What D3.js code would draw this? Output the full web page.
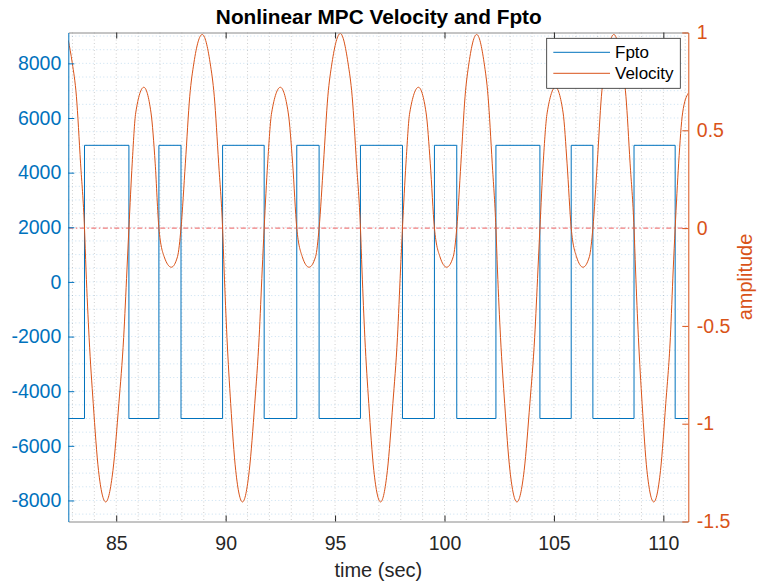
<!DOCTYPE html>
<html>
<head>
<meta charset="utf-8">
<script src="https://cdn.jsdelivr.net/npm/d3@7"></script>
<style>
  body { margin: 0; background: #fff; }
  svg { display: block; font-family: "Liberation Sans", Arial, sans-serif; }
</style>
</head>
<body>
<script>
// Fpto switching times (sec) and levels
let fptoT = [82.81, 83.55, 85.58, 86.95, 87.96, 89.86, 91.76, 93.25, 94.27, 96.16,
             98.08, 99.54, 100.56, 102.35, 104.36, 105.79, 106.78, 108.66, 110.54, 111.14];
let fptoV = [-5000, 5000, -5000, 5000, -5000, 5000, -5000, 5000, -5000, 5000,
             -5000, 5000, -5000, 5000, -5000, 5000, -5000, 5000, -5000, -5000];

// velocity samples
let velT = [82.81, 82.99, 83.18, 83.37, 83.55,
  83.62, 83.76, 83.95, 84.19, 84.52, 84.85, 85.12, 85.34, 85.49, 85.58,
  85.73, 85.89, 86.26, 86.59, 86.78, 86.95, 87.19, 87.52, 87.80, 87.96,
  88.16, 88.36, 88.55, 88.93, 89.29, 89.48, 89.68, 89.86,
  89.93, 90.06, 90.23, 90.46, 90.77, 91.08, 91.33, 91.53, 91.67, 91.76,
  91.92, 92.10, 92.50, 92.86, 93.06, 93.25, 93.50, 93.81, 94.11, 94.27,
  94.47, 94.67, 94.86, 95.24, 95.59, 95.78, 95.98, 96.16,
  96.23, 96.36, 96.54, 96.77, 97.08, 97.39, 97.64, 97.85, 97.99, 98.08,
  98.24, 98.41, 98.81, 99.16, 99.35, 99.54, 99.79, 100.10, 100.40, 100.56,
  100.75, 100.94, 101.12, 101.47, 101.81, 101.99, 102.18, 102.35,
  102.42, 102.56, 102.75, 102.99, 103.31, 103.64, 103.90, 104.12, 104.27, 104.36,
  104.51, 104.69, 105.07, 105.42, 105.60, 105.79, 106.03, 106.33, 106.62, 106.78,
  106.98, 107.17, 107.37, 107.74, 108.09, 108.29, 108.48, 108.66,
  108.73, 108.86, 109.03, 109.25, 109.56, 109.87, 110.11, 110.32, 110.45, 110.54,
  110.70, 110.88, 111.14];
let velV = [0.96, 0.845, 0.674, 0.332, 0,
  -0.214, -0.559, -0.897, -1.239, -1.40, -1.239, -0.897, -0.559, -0.214, 0,
  0.332, 0.589, 0.72, 0.589, 0.332, 0, -0.146, -0.20, -0.146, 0,
  0.332, 0.674, 0.845, 0.99, 0.845, 0.674, 0.332, 0,
  -0.214, -0.559, -0.897, -1.239, -1.40, -1.239, -0.897, -0.559, -0.214, 0,
  0.332, 0.589, 0.72, 0.589, 0.332, 0, -0.146, -0.20, -0.146, 0,
  0.332, 0.674, 0.845, 0.995, 0.845, 0.674, 0.332, 0,
  -0.214, -0.559, -0.897, -1.239, -1.40, -1.239, -0.897, -0.559, -0.214, 0,
  0.332, 0.589, 0.72, 0.589, 0.332, 0, -0.146, -0.20, -0.146, 0,
  0.332, 0.674, 0.845, 0.99, 0.845, 0.674, 0.332, 0,
  -0.214, -0.559, -0.897, -1.239, -1.40, -1.239, -0.897, -0.559, -0.214, 0,
  0.332, 0.589, 0.72, 0.589, 0.332, 0, -0.146, -0.20, -0.146, 0,
  0.332, 0.674, 0.845, 0.99, 0.845, 0.674, 0.332, 0,
  -0.214, -0.559, -0.897, -1.239, -1.40, -1.239, -0.897, -0.559, -0.214, 0,
  0.332, 0.589, 0.69];

// ticks
let xTicks = [85, 90, 95, 100, 105, 110];
let yLeftTicks = [-8000, -6000, -4000, -2000, 0, 2000, 4000, 6000, 8000];
let yRightTicks = [-1.5, -1, -0.5, 0, 0.5, 1];
let seriesNames = ["Fpto", "Velocity"];

let blue = "#0072BD", orange = "#D95319", dark = "#262626";

let W = 757, H = 584;
let pLeft = 68.3, pRight = 688.3, pTop = 32.5, pBottom = 521.5;

let x = d3.scaleLinear().domain([82.81, 111.14]).range([pLeft, pRight]);
let yL = d3.scaleLinear().domain([-8770, 9130]).range([pBottom, pTop]);
let yR = d3.scaleLinear().domain([-1.5, 1]).range([pBottom, pTop]);

let svg = d3.select("body").append("svg")
    .attr("width", W)
    .attr("height", H);

svg.append("rect").attr("width", W).attr("height", H).attr("fill", "#fff");

svg.append("defs").append("clipPath").attr("id", "clip")
  .append("rect")
    .attr("x", pLeft).attr("y", pTop)
    .attr("width", pRight - pLeft).attr("height", pBottom - pTop);

// grid (dotted, minor + major)
let grid = svg.append("g");
grid.selectAll(".vg").data(d3.range(83, 112, 1)).enter()
  .append("line")
    .attr("x1", d => x(d)).attr("x2", d => x(d))
    .attr("y1", pTop).attr("y2", pBottom)
    .attr("stroke", "rgba(38,38,38,0.22)")
    .attr("stroke-dasharray", "1,2.5");
grid.selectAll(".hg").data(d3.range(-8500, 9001, 500)).enter()
  .append("line")
    .attr("x1", pLeft).attr("x2", pRight)
    .attr("y1", d => yL(d)).attr("y2", d => yL(d))
    .attr("stroke", "rgba(0,114,189,0.22)")
    .attr("stroke-dasharray", "1,2.5");

let plot = svg.append("g").attr("clip-path", "url(#clip)");

// Fpto square wave
let fpto = fptoT.map((t, i) => [t, fptoV[i]]);
plot.append("path")
    .datum(fpto)
    .attr("fill", "none")
    .attr("stroke", blue)
    .attr("stroke-width", 1)
    .attr("d", d3.line().curve(d3.curveStepAfter)
        .x(d => x(d[0])).y(d => yL(d[1])));

// zero amplitude reference
plot.append("line")
    .attr("x1", pLeft).attr("x2", pRight)
    .attr("y1", yR(0)).attr("y2", yR(0))
    .attr("stroke", "#f07c7c")
    .attr("stroke-width", 1.2)
    .attr("stroke-dasharray", "5,2.5,1.5,2.5");

// velocity
let vel = velT.map((t, i) => [t, velV[i]]);
plot.append("path")
    .datum(vel)
    .attr("fill", "none")
    .attr("stroke", orange)
    .attr("stroke-width", 1)
    .attr("d", d3.line().curve(d3.curveMonotoneX)
        .x(d => x(d[0])).y(d => yR(d[1])));

// axes
function styleAxis(g, col, fs) {
  g.attr("font-family", null).attr("font-size", null);
  g.selectAll("text").style("font-size", fs + "px").attr("fill", col);
  g.selectAll("line").attr("stroke", col);
}

let gx = svg.append("g")
    .attr("transform", "translate(0," + pBottom + ")")
    .call(d3.axisBottom(x).tickValues(xTicks).tickSizeInner(-6).tickSizeOuter(0).tickPadding(14.5));
styleAxis(gx, dark, 19.5);
gx.select(".domain").attr("stroke", "#8a8a8a");

let gt = svg.append("g")
    .attr("transform", "translate(0," + pTop + ")")
    .call(d3.axisTop(x).tickValues(xTicks).tickSizeInner(-6).tickSizeOuter(0).tickFormat(""));
styleAxis(gt, dark, 19.5);
gt.select(".domain").attr("stroke", "#8a8a8a");

let gl = svg.append("g")
    .attr("transform", "translate(" + pLeft + ",0)")
    .call(d3.axisLeft(yL).tickValues(yLeftTicks).tickSizeInner(-6).tickSizeOuter(0).tickPadding(7)
        .tickFormat(d => String(d)));
styleAxis(gl, blue, 19.5);
gl.select(".domain").attr("stroke", blue);

let gr = svg.append("g")
    .attr("transform", "translate(" + pRight + ",0)")
    .call(d3.axisRight(yR).tickValues(yRightTicks).tickSizeInner(-6).tickSizeOuter(0).tickPadding(8.5)
        .tickFormat(d => String(d)));
styleAxis(gr, orange, 19.5);
gr.select(".domain").attr("stroke", orange);

// title and labels
svg.append("text")
    .attr("x", 378.8)
    .attr("y", 24)
    .attr("text-anchor", "middle")
    .style("font-size", "20.8px")
    .style("font-weight", "bold")
    .attr("fill", "#000")
    .text("Nonlinear MPC Velocity and Fpto");

svg.append("text")
    .attr("x", (pLeft + pRight) / 2)
    .attr("y", 577)
    .attr("text-anchor", "middle")
    .style("font-size", "20px")
    .attr("fill", dark)
    .text("time (sec)");

svg.append("text")
    .attr("transform", "translate(752," + ((pTop + pBottom) / 2) + ") rotate(-90)")
    .attr("text-anchor", "middle")
    .style("font-size", "20px")
    .attr("fill", orange)
    .text("amplitude");

// legend
let leg = svg.append("g");
leg.append("rect")
    .attr("x", 546.7).attr("y", 38.3)
    .attr("width", 133.6).attr("height", 50)
    .attr("fill", "#fff")
    .attr("stroke", dark)
    .attr("stroke-width", 0.8);
[blue, orange].forEach((c, i) => {
  let ly = 52.3 + i * 21;
  leg.append("line")
      .attr("x1", 553.3).attr("x2", 610)
      .attr("y1", ly).attr("y2", ly)
      .attr("stroke", c);
  leg.append("text")
      .attr("x", 615)
      .attr("y", ly)
      .attr("dy", "0.36em")
      .style("font-size", "17px")
      .attr("fill", "#000")
      .text(seriesNames[i]);
});
</script>
</body>
</html>
